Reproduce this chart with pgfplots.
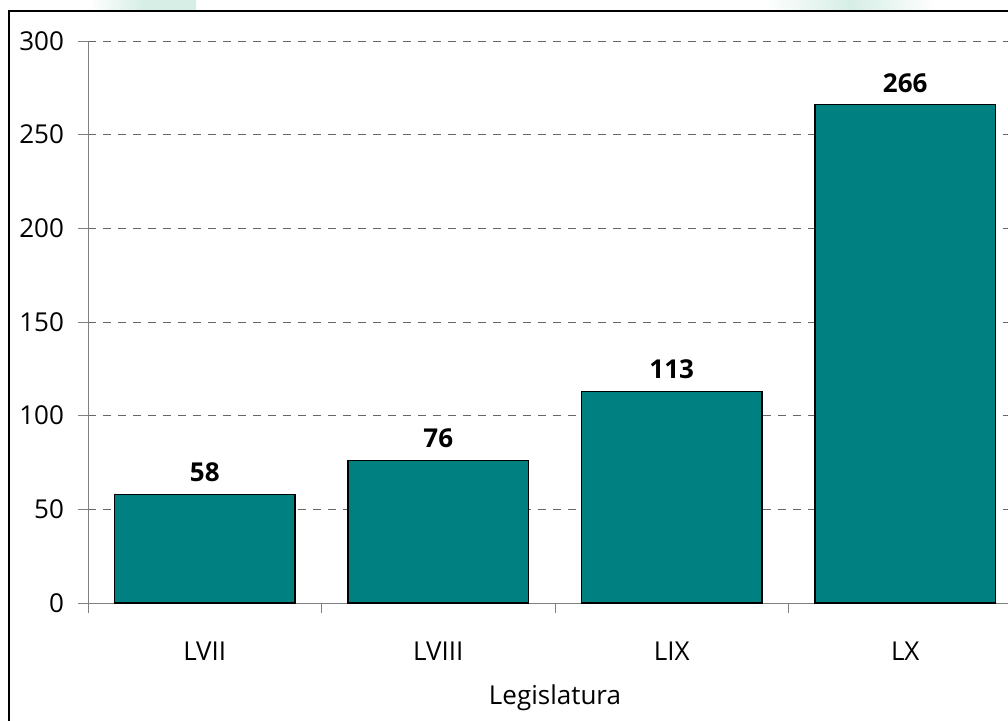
\documentclass[border=0pt]{standalone}
\usepackage{fontspec}
\setmainfont{Open Sans}
\usepackage{pgfplots}
\pgfplotsset{compat=1.18}
\definecolor{barteal}{HTML}{008080}
\definecolor{wm}{HTML}{D6EEE6}
\begin{document}
\begin{tikzpicture}
\clip (0,0) rectangle (504pt,360pt);
\fill[white] (0,0) rectangle (504pt,360pt);
% faint watermark at the top
\fill[left color=white, right color=wm, middle color=wm] (45pt,355pt) rectangle (98pt,360pt);
\fill[left color=white, right color=white, middle color=wm] (382pt,355pt) rectangle (468pt,360pt);
% outer frame
\draw[line width=1pt] (4.5pt,-10pt) rectangle (520pt,354.5pt);
\begin{axis}[
  at={(44pt,58.5pt)}, anchor=south west,
  scale only axis, width=467pt, height=281pt,
  xmin=-0.5, xmax=3.5, ymin=0, ymax=300,
  axis lines*=left,
  axis line style={draw=gray, line width=0.5pt},
  ytick={0,50,...,300},
  ymajorgrids,
  grid style={dashed, dash pattern=on 4pt off 3.5pt, draw=black!60, line width=0.5pt},
  tick align=outside,
  major tick length=5pt,
  tick style={draw=gray, line width=0.5pt},
  xtick={-0.5,0.5,1.5,2.5,3.5},
  xticklabels={},
  extra x ticks={0,1,2,3},
  extra x tick labels={LVII,LVIII,LIX,LX},
  extra x tick style={major tick length=0pt, xticklabel style={yshift=-16pt}},
  yticklabel style={xshift=-3.5pt},
  ticklabel style={font=\fontsize{13}{15}\selectfont},
  /pgf/number format/assume math mode=true,
  xlabel={Legislatura},
  xlabel style={font=\fontsize{13}{15}\selectfont, yshift=0pt},
  clip=false,
]
\addplot[ybar, bar width=0.775, fill=barteal, draw=black, line width=0.75pt,
  nodes near coords,
  every node near coord/.append style={font=\fontsize{13}{15}\selectfont\bfseries, yshift=2.5pt}]
  coordinates {(0,58) (1,76) (2,113) (3,266)};
\end{axis}
\end{tikzpicture}
\end{document}
